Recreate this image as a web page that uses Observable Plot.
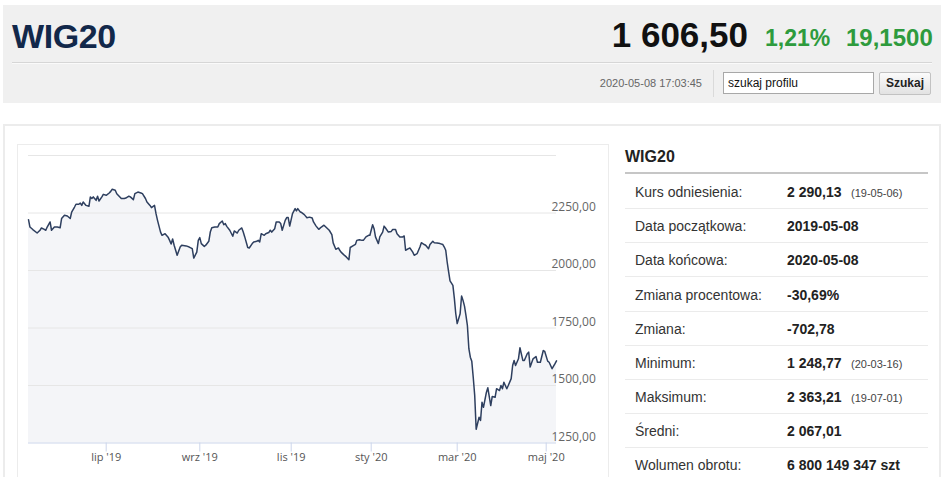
<!DOCTYPE html>
<html><head><meta charset="utf-8">
<script src="https://cdn.jsdelivr.net/npm/d3@7"></script>
<script src="https://cdn.jsdelivr.net/npm/@observablehq/plot@0.6"></script>
<style>
html,body{margin:0;padding:0}
body{width:945px;height:477px;overflow:hidden;background:#fff;font-family:"Liberation Sans",Arial,sans-serif;position:relative}
.a{position:absolute;white-space:nowrap}
#hdr{left:3px;top:5px;width:938px;height:98px;background:#f0f0f0}
#title{left:12px;top:19px;font-size:34px;line-height:34px;letter-spacing:-0.4px;font-weight:bold;color:#12284a}
#price{right:197px;top:17px;font-size:35px;line-height:35px;font-weight:bold;color:#111}
#pct{left:765px;top:27px;font-size:23px;line-height:23px;font-weight:bold;color:#2e9b3d}
#chg{left:846px;top:26px;font-size:24px;line-height:24px;font-weight:bold;color:#2e9b3d}
#sep{left:12px;top:62px;width:920px;height:0;border-top:1px solid #d6d6d6;border-bottom:1px solid #fafafa}
#ts{right:243px;top:77px;font-size:11px;line-height:13px;color:#666}
#vdiv{left:713px;top:70px;width:1px;height:27px;background:#dadada}
#inp{left:723px;top:72px;border:1px solid #a8a8a8;background:#fff;font-size:12px;line-height:20px;padding-left:4px;box-sizing:border-box;width:151px;height:22px;color:#111}
#btn{left:879px;top:72px;width:52px;height:23px;box-sizing:border-box;border:1px solid #c2c2c2;border-radius:2px;background:linear-gradient(#fbfbfb,#e2e2e2);font-size:12px;line-height:21px;font-weight:bold;text-align:center;color:#222}
#panel{left:3px;top:124px;width:934px;height:360px;border:2px solid #ececec}
#frame{left:17px;top:144px;width:590px;height:340px;border:1px solid #ececec}
#chart{left:18px;top:145px}
#th{left:625px;top:149px;font-size:16px;line-height:16px;font-weight:bold;color:#222}
#tu{left:625px;top:172px;width:303px;height:2px;background:#c6c6c6}
.row{left:625px;width:303px;height:34px;border-bottom:1px solid #ebebeb;box-sizing:border-box}
.lab{left:10px;top:0;font-size:14px;line-height:34px;color:#333}
.val{left:162px;top:0;font-size:14px;line-height:34px;font-weight:bold;color:#222}
.ext{left:226px;top:1px;font-size:11px;line-height:34px;color:#444}
</style></head>
<body>
<div id="hdr" class="a"></div>
<div id="title" class="a">WIG20</div>
<div id="price" class="a">1 606,50</div>
<div id="pct" class="a">1,21%</div>
<div id="chg" class="a">19,1500</div>
<div id="sep" class="a"></div>
<div id="ts" class="a">2020-05-08 17:03:45</div>
<div id="vdiv" class="a"></div>
<div id="inp" class="a">szukaj profilu</div>
<div id="btn" class="a">Szukaj</div>
<div id="panel" class="a"></div>
<div id="frame" class="a"></div>
<div id="chart" class="a"></div>
<div id="th" class="a">WIG20</div>
<div id="tu" class="a"></div>
<div id="table"></div>
<script>
// ---- chart data ----
const dates = [
"2019-05-08","2019-05-09","2019-05-11","2019-05-14","2019-05-16","2019-05-17","2019-05-19","2019-05-20","2019-05-21","2019-05-23",
"2019-05-24","2019-05-26","2019-05-28","2019-05-30","2019-05-31","2019-06-02","2019-06-04","2019-06-06","2019-06-07","2019-06-09",
"2019-06-10","2019-06-12","2019-06-13","2019-06-14","2019-06-15","2019-06-17","2019-06-19","2019-06-20","2019-06-21","2019-06-22",
"2019-06-24","2019-06-25","2019-06-26","2019-06-28","2019-06-29","2019-07-01","2019-07-03","2019-07-04","2019-07-05","2019-07-07",
"2019-07-08","2019-07-11","2019-07-13","2019-07-14","2019-07-16","2019-07-17","2019-07-19","2019-07-20","2019-07-22","2019-07-24",
"2019-07-25","2019-07-27","2019-07-28","2019-07-30","2019-07-31","2019-08-02","2019-08-03","2019-08-04","2019-08-06","2019-08-07",
"2019-08-09","2019-08-11","2019-08-12","2019-08-13","2019-08-14","2019-08-15","2019-08-17","2019-08-19","2019-08-20","2019-08-23",
"2019-08-25","2019-08-27","2019-08-28","2019-08-30","2019-08-31","2019-09-01","2019-09-02","2019-09-04","2019-09-05","2019-09-07",
"2019-09-08","2019-09-09","2019-09-11","2019-09-13","2019-09-14","2019-09-16","2019-09-17","2019-09-18","2019-09-19","2019-09-21",
"2019-09-23","2019-09-24","2019-09-26","2019-09-27","2019-09-29","2019-09-30","2019-10-01","2019-10-03","2019-10-04","2019-10-06",
"2019-10-07","2019-10-09","2019-10-10","2019-10-11","2019-10-12","2019-10-14","2019-10-15","2019-10-17","2019-10-18","2019-10-19",
"2019-10-21","2019-10-22","2019-10-24","2019-10-25","2019-10-26","2019-10-28","2019-10-29","2019-10-30","2019-10-31","2019-11-02",
"2019-11-04","2019-11-05","2019-11-06","2019-11-08","2019-11-09","2019-11-11","2019-11-13","2019-11-15","2019-11-17","2019-11-18",
"2019-11-20","2019-11-22","2019-11-24","2019-11-26","2019-11-28","2019-11-30","2019-12-02","2019-12-03","2019-12-05","2019-12-07",
"2019-12-08","2019-12-09","2019-12-11","2019-12-13","2019-12-15","2019-12-16","2019-12-18","2019-12-20","2019-12-21","2019-12-23",
"2019-12-25","2019-12-26","2019-12-28","2019-12-30","2019-12-31","2020-01-02","2020-01-03","2020-01-04","2020-01-06","2020-01-07",
"2020-01-09","2020-01-10","2020-01-11","2020-01-13","2020-01-15","2020-01-16","2020-01-18","2020-01-19","2020-01-21","2020-01-23",
"2020-01-24","2020-01-25","2020-01-27","2020-01-28","2020-01-30","2020-01-31","2020-02-02","2020-02-04","2020-02-05","2020-02-07",
"2020-02-08","2020-02-10","2020-02-11","2020-02-13","2020-02-14","2020-02-16","2020-02-18","2020-02-20","2020-02-21","2020-02-22",
"2020-02-23","2020-02-24","2020-02-25","2020-02-27","2020-02-28","2020-02-29","2020-03-01","2020-03-03","2020-03-04","2020-03-05",
"2020-03-06","2020-03-07","2020-03-08","2020-03-09","2020-03-10","2020-03-11","2020-03-12","2020-03-13","2020-03-14","2020-03-16",
"2020-03-17","2020-03-18","2020-03-19","2020-03-21","2020-03-22","2020-03-24","2020-03-25","2020-03-27","2020-03-28","2020-03-30",
"2020-03-31","2020-04-01","2020-04-02","2020-04-04","2020-04-05","2020-04-07","2020-04-08","2020-04-09","2020-04-10","2020-04-12",
"2020-04-13","2020-04-15","2020-04-16","2020-04-18","2020-04-19","2020-04-20","2020-04-22","2020-04-24","2020-04-25","2020-04-27",
"2020-04-29","2020-04-30","2020-05-02","2020-05-03","2020-05-05","2020-05-07","2020-05-08"];
const values = [
2221,2189,2178,2163,2175,2185,2179,2175,2189,2211,
2175,2189,2189,2186,2226,2240,2237,2226,2254,2276,
2288,2288,2293,2283,2298,2283,2279,2320,2313,2320,
2305,2323,2302,2320,2331,2327,2337,2344,2353,2349,
2334,2313,2313,2315,2323,2320,2308,2334,2341,2337,
2334,2313,2298,2283,2273,2283,2247,2218,2167,2153,
2160,2145,2131,2115,2137,2110,2066,2102,2110,2107,
2102,2095,2054,2080,2131,2143,2117,2105,2110,2127,
2167,2186,2189,2189,2204,2215,2199,2204,2192,2175,
2149,2172,2163,2175,2185,2167,2146,2100,2098,2117,
2124,2127,2131,2124,2160,2153,2160,2165,2175,2167,
2182,2211,2211,2204,2175,2218,2230,2230,2193,2247,
2269,2259,2269,2254,2252,2243,2229,2232,2228,2211,
2193,2179,2189,2197,2186,2175,2156,2120,2092,2098,
2088,2080,2069,2059,2047,2100,2107,2114,2131,2134,
2131,2131,2146,2153,2153,2199,2182,2146,2117,2146,
2167,2193,2185,2167,2170,2178,2178,2160,2146,2146,
2150,2088,2095,2098,2080,2066,2073,2102,2121,2113,
2110,2095,2113,2127,2121,2120,2117,2113,2102,2088,
2037,1995,1955,1935,1880,1812,1769,1812,1889,1870,
1845,1805,1760,1660,1623,1605,1535,1457,1310,1362,
1348,1427,1405,1470,1490,1413,1452,1449,1486,1478,
1500,1486,1514,1486,1500,1530,1587,1609,1587,1616,
1664,1609,1609,1638,1645,1580,1616,1626,1601,1601,
1652,1648,1606,1601,1573,1595,1607];

const tickDates = ["2019-07-01","2019-09-01","2019-11-01","2020-01-01","2020-03-01","2020-05-01"];
const tickLabels = ["lip '19","wrz '19","lis '19","sty '20","mar '20","maj '20"];
const yTicks = [1250, 1500, 1750, 2000, 2250];
const yGrid = [1500, 1750, 2000, 2250, 2500];
const yDomain = [1250, 2500];
const startDate = "2019-05-08", endDate = "2020-05-08";

// ---- side table ----
const rowLabels = ["Kurs odniesienia:","Data początkowa:","Data końcowa:","Zmiana procentowa:","Zmiana:","Minimum:","Maksimum:","Średni:","Wolumen obrotu:"];
const rowValues = ["2 290,13","2019-05-08","2020-05-08","-30,69%","-702,78","1 248,77","2 363,21","2 067,01","6 800 149 347 szt"];
const rowExtras = ["(19-05-06)","","","","","(20-03-16)","(19-07-01)","",""];

const parse = d3.utcParse("%Y-%m-%d");
const data = dates.map((d, i) => ({date: parse(d), value: values[i]}));
const t0 = parse(startDate), t1 = parse(endDate);
const ticks = tickDates.map(parse);
const labelOf = new Map(ticks.map((d, i) => [+d, tickLabels[i]]));

// ordinal-like (trading-day) x axis approximated piecewise between month starts
const xKnots = [t0, ...ticks, t1];
const xRange = [10, 87.7, 181.3, 272.7, 352.7, 438.7, 527.7, 538];

const chart = Plot.plot({
  width: 590, height: 332,
  marginTop: 10, marginBottom: 34.5, marginLeft: 10, marginRight: 52,
  style: {fontFamily: "'Open Sans', sans-serif", fontSize: "11px", background: "transparent", overflow: "visible"},
  x: {type: "utc", domain: xKnots, range: xRange},
  y: {domain: yDomain},
  marks: [
    Plot.areaY(data, {x: "date", y1: yDomain[0], y2: "value", fill: "#f4f5f8"}),
    Plot.ruleY(yGrid, {x1: () => t0, x2: () => t1, stroke: "#e6e6e6"}),
    Plot.ruleY([yDomain[0]], {x1: () => t0, x2: () => t1, stroke: "#ccd6eb"}),
    Plot.lineY(data, {x: "date", y: "value", stroke: "#2e3f5f", strokeWidth: 1.5}),
    Plot.axisX({ticks, tickSize: 9, tickPadding: 1, stroke: "#ccd6eb", color: "#555", fontSize: 11,
      tickFormat: d => labelOf.get(+d), label: null}),
    Plot.axisY({anchor: "right", ticks: yTicks, tickSize: 0, tickPadding: 0, dx: -5, dy: -6,
      textAnchor: "start", color: "#666", fontSize: 12, label: null,
      tickFormat: d => d.toFixed(2).replace(".", ",")})
  ]
});
document.getElementById("chart").appendChild(chart);

const table = document.getElementById("table");
const rowTop = 175.2, rowPitch = 34.14;
rowLabels.forEach((lab, i) => {
  const r = document.createElement("div");
  r.className = "a row";
  r.style.top = (rowTop + i * rowPitch) + "px";
  if (i === rowLabels.length - 1) r.style.borderBottom = "none";
  r.innerHTML = `<div class="a lab">${lab}</div><div class="a val">${rowValues[i]}</div>` +
    (rowExtras[i] ? `<div class="a ext">${rowExtras[i]}</div>` : "");
  table.appendChild(r);
});
</script>
</body></html>
